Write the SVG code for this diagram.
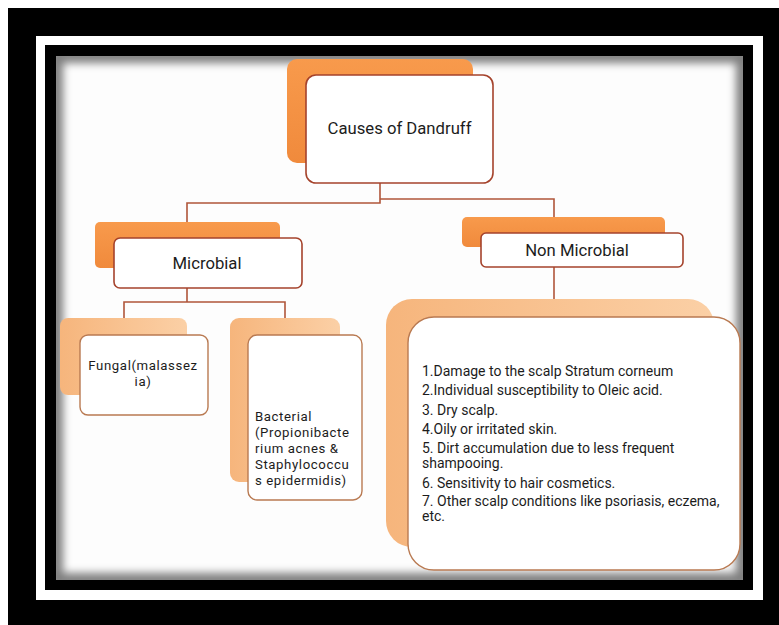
<svg xmlns="http://www.w3.org/2000/svg" width="779" height="625" viewBox="0 0 779 625">
<defs>
<style>
.t{font-family:Roboto,"Liberation Sans",Arial,sans-serif;fill:#1c1c1c}
.big{font-size:16.7px}
.sm{font-size:13.2px;letter-spacing:0.6px}
.ls{font-size:14px}
.conn{fill:none;stroke:#b0553a;stroke-width:1.6}
.frontA{fill:#fff;stroke:#a5432c;stroke-width:1.6}
.frontB{fill:#fff;stroke:#b97a52;stroke-width:1.4}
.backA{fill:url(#gA)}
.backB{fill:url(#gB)}
</style>
<linearGradient id="gA" x1="0" y1="0" x2="0" y2="1"><stop offset="0" stop-color="#f89a4c"/><stop offset="1" stop-color="#f08a3c"/></linearGradient>
<linearGradient id="gB" x1="0" y1="0" x2="1" y2="0"><stop offset="0" stop-color="#f6b57c"/><stop offset="1" stop-color="#fbd0a6"/></linearGradient>
<clipPath id="cp"><rect x="56" y="56" width="687" height="524"/></clipPath>
<filter id="bl" x="-5%" y="-5%" width="110%" height="110%"><feGaussianBlur stdDeviation="4"/></filter>
</defs>
<rect width="779" height="625" fill="#fff"/>
<rect x="8" y="8" width="771" height="617" fill="#000"/>
<rect x="36" y="36" width="727" height="564" fill="#fff"/>
<rect x="45" y="45" width="708" height="545" fill="#000"/>
<rect x="56" y="56" width="687" height="524" fill="#fdfdfd"/>
<g clip-path="url(#cp)"><rect x="56" y="56" width="687" height="524" fill="none" stroke="#000" stroke-width="14" opacity="0.5" filter="url(#bl)"/></g>

<g id="connectors">
<path class="conn" d="M380 183 V203 H187 V222"/>
<path class="conn" d="M380 199 H554 V217"/>
<path class="conn" d="M187 288 V302 M124 318 V302 H285 V318"/>
<path class="conn" d="M554 267 V300"/>
</g>

<g id="root">
<rect class="backA" x="287" y="59" width="186" height="104" rx="10"/>
<rect class="frontA" x="306" y="75" width="187" height="108" rx="10"/>
<text class="t big" x="399.5" y="134" text-anchor="middle">Causes of Dandruff</text>
</g>

<g id="microbial">
<rect class="backA" x="95" y="222" width="185" height="46" rx="5"/>
<rect class="frontA" x="114" y="238" width="188" height="50" rx="6"/>
<text class="t big" x="207" y="269" text-anchor="middle">Microbial</text>
</g>

<g id="nonmicrobial">
<rect class="backA" x="462" y="217" width="203" height="30" rx="5"/>
<rect class="frontA" x="481" y="233" width="202" height="34" rx="5"/>
<text class="t big" x="577" y="256" text-anchor="middle">Non Microbial</text>
</g>

<g id="fungal">
<rect class="backB" x="60" y="318" width="127" height="77" rx="8"/>
<rect class="frontB" x="80" y="335" width="128" height="80" rx="8"/>
<text class="t sm" x="143" y="370" text-anchor="middle">Fungal(malassez</text>
<text class="t sm" x="143" y="386" text-anchor="middle">ia)</text>
</g>

<g id="bacterial">
<rect class="backB" x="230" y="318" width="110" height="164" rx="9"/>
<rect class="frontB" x="248" y="335" width="114" height="165" rx="9"/>
<text class="t sm" x="255" y="421">Bacterial</text>
<text class="t sm" x="255" y="437">(Propionibacte</text>
<text class="t sm" x="255" y="453">rium acnes &amp;</text>
<text class="t sm" x="255" y="469">Staphylococcu</text>
<text class="t sm" x="255" y="485">s epidermidis)</text>
</g>

<g id="nonmicrobial-list">
<rect class="backB" x="386" y="299" width="328" height="248" rx="26"/>
<rect class="frontB" x="408" y="317" width="332" height="253" rx="26"/>
<text class="t ls" x="422" y="376">1.Damage to the scalp Stratum corneum</text>
<text class="t ls" x="422" y="395">2.Individual susceptibility to Oleic acid.</text>
<text class="t ls" x="422" y="415">3. Dry scalp.</text>
<text class="t ls" x="422" y="434">4.Oily or irritated skin.</text>
<text class="t ls" x="422" y="453">5. Dirt accumulation due to less frequent</text>
<text class="t ls" x="422" y="468">shampooing.</text>
<text class="t ls" x="422" y="488">6. Sensitivity to hair cosmetics.</text>
<text class="t ls" x="422" y="506">7. Other scalp conditions like psoriasis, eczema,</text>
<text class="t ls" x="422" y="521">etc.</text>
</g>
</svg>
